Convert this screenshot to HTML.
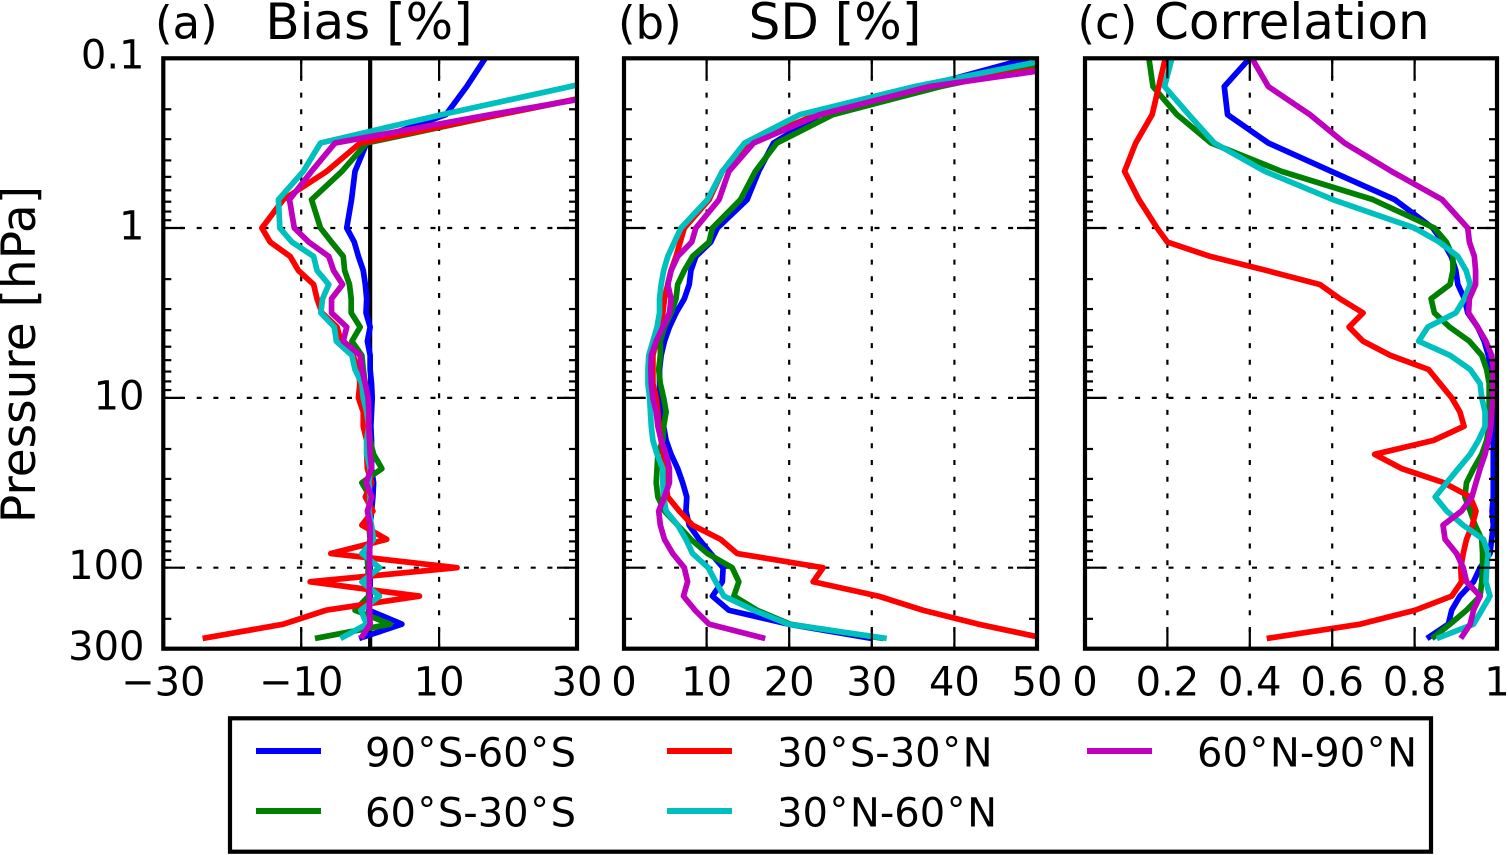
<!DOCTYPE html>
<html>
<head>
<meta charset="utf-8">
<title>Pressure profiles of bias, SD and correlation</title>
<style>
html,body{margin:0;padding:0;background:#fff;}
svg{display:block;}
text{font-family:"DejaVu Sans",sans-serif;fill:#000;}
</style>
</head>
<body>
<svg id="chart" xmlns="http://www.w3.org/2000/svg" width="1508" height="855" viewBox="0 0 1508 855"></svg>
<script>
var pressureLevels=[0.1,0.147,0.215,0.316,0.464,0.681,1,1.21,1.47,1.78,2.15,2.61,3.16,3.83,4.64,5.62,6.81,8.25,10,12.1,14.7,17.8,21.5,26.1,31.6,38.3,46.4,56.2,68.1,82.5,100,121,147,178,215,261];
var regionNames=["90°S-60°S","60°S-30°S","30°S-30°N","30°N-60°N","60°N-90°N"];

var biasBlue=[16.7,14,11,-0.5,-2.2,-2.7,-3.4,-2.3,-1.7,-1,-0.7,-0.5,-0.6,0,-0.4,0,0,0.2,0.3,0.2,0.1,0.2,0.2,0.2,0.5,0.4,0.2,0,0,-0.1,0,0,0,-0.2,4.6,-1.6];
var biasGreen=[60,39,18.8,-0.5,-4.1,-8.5,-7.2,-5.6,-3.9,-3.7,-3,-2.75,-2.75,-1.45,-2.65,-1.2,-1,-0.7,-0.5,-0.2,-0.2,0,0.5,1.7,-1.2,0,0,-0.2,0,-0.5,-0.3,-0.3,-0.2,-2.2,2.9,-8];
var biasRed=[60,39,18.8,-1.45,-6.3,-12.6,-15.7,-14.5,-11.6,-10.4,-8.2,-7.7,-7,-4.8,-4.25,-2.5,-1.7,-1.5,-1.7,-1,-1,-0.5,-0.5,-0.4,0.2,-0.7,0.4,-1.2,2.4,-5.7,12.6,-8.7,7.15,-6.4,-12.6,-24.3];
var biasCyan=[46,29,10.4,-7.2,-9.7,-13.3,-13.1,-11.35,-8.2,-7.7,-6,-6.9,-7.15,-5.2,-4.9,-2.65,-2.2,-1.2,-1,-0.5,-0.2,-0.5,-0.5,0,-0.2,0,-0.2,0.2,0.5,-1.2,1.35,-1.2,1.35,-1.35,-0.5,-4.3];
var biasMagenta=[62,41,17.5,-5.1,-8.5,-11.7,-11,-8.9,-6,-5.3,-4,-5.6,-5.6,-3.4,-3.9,-1.45,-1.2,-0.7,-0.3,-0.2,-0.2,-0.1,0,0.2,-0.6,0.25,-0.4,0,0,-0.1,-0.1,-0.1,-0.1,-0.1,0,-1.35];

var sdBlue=[49,36.4,23.7,18.1,16.3,14.9,11.3,10.5,8.7,8.1,7.9,7.3,6.3,5.5,4.9,4.5,4.3,4.3,4.4,4.7,4.8,5.1,5.7,6.5,7.1,7.6,7.5,7.9,9.1,10.5,12,11.9,10.7,12.7,19.9,30];
var sdGreen=[54.7,38.3,25.3,18.5,15.9,14.1,10.7,10.3,8.3,7.3,6.5,6.3,5.7,4.9,4.4,4.4,4.2,4.4,4.8,5.1,4.8,4.7,4.1,4,3.9,4.1,4.9,6.5,8.1,10.1,13.1,13.9,13.3,16.1,20.1,31.4];
var sdRed=[58.8,37,23.3,15.1,11.9,10.3,7.3,6.8,6.3,5.7,5.3,4.9,4.7,4.3,3.9,3.5,3.5,3.5,3.9,4.1,4.2,4.5,4.8,4.9,5,5.3,6.7,8.3,11.7,13.7,24.1,22.9,30.8,36.2,42.9,51];
var sdCyan=[52.3,35.2,21.3,14.6,11.9,10.1,6.9,6.1,5.3,4.8,4.5,4.3,4.3,4,3.5,3,2.9,2.9,3.1,3.2,3.3,3.5,4,4.7,4.7,4.8,5.1,6.5,7.5,8.3,10.2,11.1,12.1,15.7,19.9,31.8];
var sdMagenta=[61,37,23.7,15.7,12.7,11.5,8.7,8.2,6.5,5.7,5.3,5.7,5.5,4.7,3.9,3.3,3.25,3.3,3.5,3.9,4.1,4.5,5.1,5.5,5.5,4.9,4.2,4.4,4.9,5.9,7.3,7.7,7.2,8.6,10.3,17.1];

var corrBlue=[0.4,0.338,0.346,0.445,0.598,0.752,0.844,0.869,0.889,0.9,0.905,0.921,0.929,0.953,0.969,0.979,0.985,0.99,0.991,0.991,0.991,0.991,0.991,0.991,0.991,0.991,0.988,0.991,0.987,0.983,0.959,0.943,0.91,0.89,0.882,0.83];
var corrGreen=[0.155,0.165,0.223,0.306,0.477,0.699,0.848,0.877,0.893,0.893,0.886,0.84,0.848,0.885,0.933,0.963,0.975,0.981,0.981,0.981,0.981,0.975,0.963,0.943,0.926,0.922,0.935,0.947,0.963,0.965,0.965,0.963,0.959,0.926,0.886,0.842];
var corrRed=[0.195,0.179,0.163,0.123,0.096,0.131,0.175,0.2,0.304,0.441,0.57,0.619,0.675,0.641,0.675,0.741,0.834,0.862,0.89,0.91,0.92,0.846,0.703,0.769,0.871,0.935,0.949,0.94,0.926,0.918,0.912,0.914,0.89,0.801,0.668,0.441];
var corrCyan=[0.211,0.193,0.252,0.314,0.437,0.602,0.8,0.86,0.905,0.925,0.935,0.921,0.9,0.832,0.81,0.886,0.935,0.959,0.963,0.971,0.971,0.955,0.935,0.906,0.878,0.85,0.878,0.918,0.967,0.979,0.975,0.973,0.983,0.963,0.943,0.854];
var corrMagenta=[0.405,0.445,0.546,0.63,0.744,0.867,0.929,0.933,0.945,0.948,0.948,0.933,0.931,0.953,0.973,0.987,0.991,0.991,0.99,0.987,0.985,0.979,0.971,0.959,0.949,0.939,0.914,0.869,0.874,0.902,0.918,0.926,0.959,0.943,0.935,0.912];

var yMajorTicks=[0.1,1,10,100];
var yLabelTexts=["0.1","1","10","100","300"];
var yLabelValues=[0.1,1,10,100,300];
var yMinorTicks=[0.2,0.3,0.4,0.5,0.6,0.7,0.8,0.9,2,3,4,5,6,7,8,9,20,30,40,50,60,70,80,90,200];
var xTicksBias=[-30,-10,10,30];
var xTickLabelsBias=["−30","−10","10","30"];
var xTicksSd=[0,10,20,30,40,50];
var xTickLabelsSd=["0","10","20","30","40","50"];
var xTicksCorr=[0,0.2,0.4,0.6,0.8,1];
var xTickLabelsCorr=["0","0.2","0.4","0.6","0.8","1"];

var SVGNS="http://www.w3.org/2000/svg";
var chart=document.getElementById("chart");
var TOP=58.3,BOTTOM=648.7,Y1=228,DEC=169.85;
var colors=["#0000ff","#008000","#ff0000","#00bfbf","#bf00bf"];
var seriesKeys=["90s-60s","60s-30s","30s-30n","30n-60n","60n-90n"];
var SERIES_WIDTH=5.7;

function yAxis(p){return Y1+DEC*Math.log10(p);}
function make(tag,attrs,parent){
  var el=document.createElementNS(SVGNS,tag);
  for(var k in attrs){el.setAttribute(k,attrs[k]);}
  (parent||chart).appendChild(el);
  return el;
}
function drawLine(parent,x1,y1,x2,y2,w,dash,name){
  var el=make("line",{x1:x1,y1:y1,x2:x2,y2:y2,stroke:"#000","stroke-width":w},parent);
  if(dash){el.setAttribute("stroke-dasharray",dash);}
  
  
  return el;
}
function drawText(parent,str,x,y,size,anchor,name){
  var el=make("text",{x:x,y:y,"font-size":size,"text-anchor":anchor},parent);
  el.textContent=str;
  
  
  return el;
}
function drawPanel(cfg){
  var xAxis=function(v){return cfg.left+(v-cfg.min)/(cfg.max-cfg.min)*(cfg.right-cfg.left);};
  var g=make("g",{});
  
  
  var clip=make("clipPath",{id:"clip-"+cfg.id},g);
  make("rect",{x:cfg.left,y:TOP,width:cfg.right-cfg.left,height:BOTTOM-TOP},clip);

  // grid
  yMajorTicks.slice(1).forEach(function(p){
    drawLine(g,cfg.left,yAxis(p),cfg.right,yAxis(p),2.2,"5 11.7",'y-gridline');
  });
  cfg.ticks.forEach(function(t){
    if(t===cfg.min||t===cfg.max){return;}
    drawLine(g,xAxis(t),BOTTOM,xAxis(t),TOP,2.2,"5 11.7",'x-gridline');
  });
  if(cfg.zeroLine){
    drawLine(g,xAxis(0),TOP,xAxis(0),BOTTOM,4.2,null,'zero-line');
  }
  // series
  cfg.series.forEach(function(vals,i){
    var pts=vals.map(function(v,j){return xAxis(v).toFixed(2)+","+yAxis(pressureLevels[j]).toFixed(2);}).join(" ");
    var line=make("polyline",{points:pts,fill:"none",stroke:colors[i],"stroke-width":SERIES_WIDTH,"stroke-linejoin":"round","stroke-linecap":"butt","clip-path":"url(#clip-"+cfg.id+")"},g);
    
    
  });
  // y ticks
  yMajorTicks.forEach(function(p){
    drawLine(g,cfg.left,yAxis(p),cfg.left+20,yAxis(p),2.2,null,'y-major-tick');
    drawLine(g,cfg.right,yAxis(p),cfg.right-20,yAxis(p),2.2,null,'y-major-tick');
  });
  yMinorTicks.forEach(function(p){
    drawLine(g,cfg.left,yAxis(p),cfg.left+8,yAxis(p),2.2,null,'y-minor-tick');
    drawLine(g,cfg.right,yAxis(p),cfg.right-8,yAxis(p),2.2,null,'y-minor-tick');
  });
  // x ticks
  cfg.ticks.forEach(function(t,i){
    var x=xAxis(t);
    if(t!==cfg.min&&t!==cfg.max){
      drawLine(g,x,BOTTOM,x,BOTTOM-20,2.2,null,'x-major-tick');
      drawLine(g,x,TOP,x,TOP+20,2.2,null,'x-major-tick');
    }
    drawText(g,cfg.tickLabels[i],x,695.7,40,"middle",'x-tick-label');
  });
  // frame
  var frame=make("rect",{x:cfg.left,y:TOP,width:cfg.right-cfg.left,height:BOTTOM-TOP,fill:"none",stroke:"#000","stroke-width":4.2},g);
  
  
  // titles
  drawText(g,cfg.tag,cfg.tagX,38.5,45,"start",'panel-tag');
  drawText(g,cfg.title,cfg.titleX,39,50,cfg.titleAnchor,'panel-title');
}

drawPanel({id:"a",left:163.3,right:577,min:-30,max:30,ticks:xTicksBias,tickLabels:xTickLabelsBias,zeroLine:true,
  series:[biasBlue,biasGreen,biasRed,biasCyan,biasMagenta],tag:"(a)",tagX:155,title:"Bias [%]",titleX:369,titleAnchor:"middle"});
drawPanel({id:"b",left:624,right:1037,min:0,max:50,ticks:xTicksSd,tickLabels:xTickLabelsSd,zeroLine:false,
  series:[sdBlue,sdGreen,sdRed,sdCyan,sdMagenta],tag:"(b)",tagX:618,title:"SD [%]",titleX:835,titleAnchor:"middle"});
drawPanel({id:"c",left:1085,right:1497,min:0,max:1,ticks:xTicksCorr,tickLabels:xTickLabelsCorr,zeroLine:false,
  series:[corrBlue,corrGreen,corrRed,corrCyan,corrMagenta],tag:"(c)",tagX:1077.5,title:"Correlation",titleX:1154,titleAnchor:"start"});

// y-axis tick labels
yLabelValues.forEach(function(p,i){
  var label=drawText(chart,yLabelTexts[i],144.5,yAxis(p)+11.5,40,"end",'y-tick-label');
  if(p===0.1){label.setAttribute("y",yAxis(p)+10.3);}
});

// y-axis title
var yTitle=drawText(chart,"Pressure [hPa]",0,0,47,"middle",'y-axis-title');
yTitle.setAttribute("transform","translate(35,354.5) rotate(-90)");

// legend
var legend=make("g",{});


var box=make("rect",{x:230,y:718.3,width:1201,height:133.4,fill:"#fff",stroke:"#000","stroke-width":4.2},legend);


var legendCols=[0,0,1,1,2];
var legendRows=[0,1,0,1,0];
var colHandleX=[256,667,1087];
var colTextX=[365,777,1197];
regionNames.forEach(function(name,i){
  var cx=legendCols[i],ry=legendRows[i];
  var y=751+ry*60;
  var entry=make("g",{},legend);
  
  
  var h=make("line",{x1:colHandleX[cx],y1:y,x2:colHandleX[cx]+65,y2:y,stroke:colors[i],"stroke-width":6},entry);
  
  
  var label=make("text",{x:colTextX[cx],y:y+15.3,"font-size":40},entry);
  
  
  name.split("°").forEach(function(part,k,all){
    var t=make("tspan",{dx:k>0?2:0,dy:k>0?4:0},label);
    t.textContent=part;
    if(k<all.length-1){
      var deg=make("tspan",{dx:2,dy:-4,"font-size":36},label);
      deg.textContent="°";
    }
  });
});
</script>
</body>
</html>
